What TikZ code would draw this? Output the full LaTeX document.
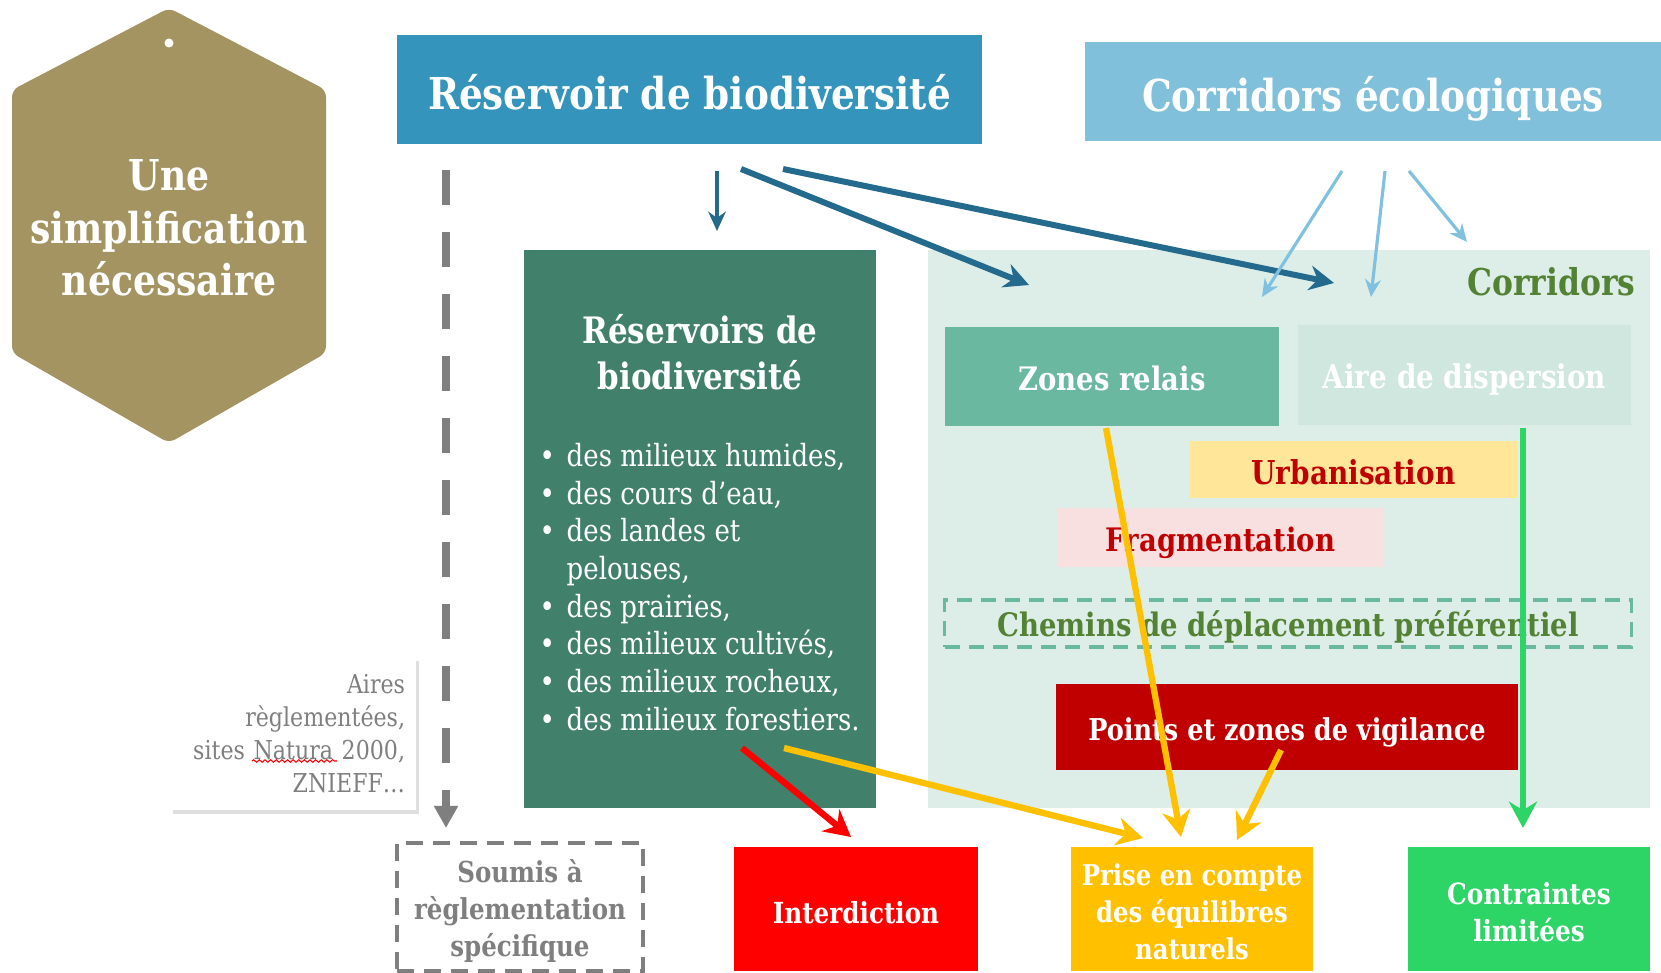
\documentclass[tikz,border=0pt]{standalone}
\usepackage{fontspec}
\setmainfont{DejaVu Serif}[FakeStretch=0.85]
\usetikzlibrary{arrows.meta,shadows,decorations.pathmorphing}
\definecolor{hexc}{HTML}{A39462}
\definecolor{resc}{HTML}{3594BB}
\definecolor{corc}{HTML}{80C0DB}
\definecolor{arrdark}{HTML}{236A8D}
\definecolor{arrlight}{HTML}{7FC1DE}
\definecolor{greenbox}{HTML}{41806B}
\definecolor{corrarea}{HTML}{DDEEE8}
\definecolor{zonec}{HTML}{6BB8A0}
\definecolor{airec}{HTML}{CFE7DF}
\definecolor{urbc}{HTML}{FFE699}
\definecolor{fragc}{HTML}{F8E0E0}
\definecolor{darkred}{HTML}{C00000}
\definecolor{textgreen}{HTML}{548235}
\definecolor{yel}{HTML}{FFC000}
\definecolor{grn}{HTML}{2DD566}
\definecolor{gry}{HTML}{7F7F7F}
\newcommand\mybul{\makebox[0.27cm][l]{•}}
\newcommand\mybulind{\hspace*{0.27cm}}
\newcommand\dn[2][2pt]{\raisebox{-#1}[\height][\depth]{\begin{tabular}{@{}c@{}}#2\end{tabular}}}
\begin{document}
\begin{tikzpicture}[x=0.01cm,y=-0.01cm,
  box/.style={inner sep=0pt, align=center},
  darkarr/.style={arrdark, line width=0.9pt, -{Stealth[length=5.5pt,width=5pt]}},
  darkthick/.style={arrdark, line width=1.7pt, -{Stealth[length=7pt,width=7pt]}},
  lightarr/.style={arrlight, line width=0.9pt, -{Stealth[length=5pt,width=4.5pt]}},
  bigarr/.style={line width=1.8pt, -{Stealth[length=7.5pt,width=8pt]}}
]
\useasboundingbox (0,0) rectangle (1661,973);
\fill[white] (0,0) rectangle (1661,973);
% hexagon
\fill[hexc, rounded corners=2pt] (169,8) -- (326,90) -- (326,353) -- (169,443) -- (12,353) -- (12,90) -- cycle;
\fill[white] (169,43) circle[radius=0.045cm];
\node[text=white, align=center, font=\bfseries\fontsize{12.1}{15}\selectfont] (simpl) at (169,228) {Une\\simplification\\nécessaire};
% top boxes
\node[box, fill=resc, text=white, minimum width=5.85cm, minimum height=1.09cm, font=\bfseries\fontsize{12.5}{14}\selectfont] (res) at (689.5,89.5) {\dn[2.7pt]{Réservoir de biodiversité}};
\node[box, fill=corc, text=white, minimum width=5.76cm, minimum height=0.99cm, font=\bfseries\fontsize{12.5}{14}\selectfont] (cor) at (1373,91.5) {\dn[2.7pt]{Corridors écologiques}};
% reservoirs box
\node[fill=greenbox, minimum width=3.52cm, minimum height=5.58cm, inner sep=0pt] (resv) at (700,529) {};
\node[text=white, align=center, inner sep=0pt, font=\bfseries\fontsize{10.35}{13}\selectfont] (resvt) at (700,352) {Réservoirs de\\biodiversité};
\node[text=white, anchor=west, align=left, inner sep=0pt, font=\fontsize{8.7}{10.7}\selectfont] (resvl) at (539,587) {\mybul des milieux humides,\\\mybul des cours d’eau,\\\mybul des landes et\\\mybulind pelouses,\\\mybul des prairies,\\\mybul des milieux cultivés,\\\mybul des milieux rocheux,\\\mybul des milieux forestiers.};
% corridors area
\node[fill=corrarea, minimum width=7.22cm, minimum height=5.58cm, inner sep=0pt] (corr) at (1289,529) {};
\node[anchor=east, text=textgreen, inner sep=0pt, font=\bfseries\fontsize{10.5}{12}\selectfont] (corrl) at (1636,282) {Corridors};
\node[box, fill=zonec, text=white, minimum width=3.34cm, minimum height=0.99cm, font=\bfseries\fontsize{9.2}{10}\selectfont] (zones) at (1112,376.5) {\dn[2.1pt]{Zones relais}};
\node[box, fill=airec, text=white, minimum width=3.33cm, minimum height=1.00cm, font=\bfseries\fontsize{9.3}{10}\selectfont] (aire) at (1464.5,375) {\dn[1.8pt]{Aire de dispersion}};
\node[box, fill=urbc, text=darkred, minimum width=3.27cm, minimum height=0.57cm, font=\bfseries\fontsize{9.35}{10}\selectfont] (urb) at (1353.5,469.5) {\dn[2.1pt]{Urbanisation}};
\node[box, fill=fragc, text=darkred, minimum width=3.25cm, minimum height=0.59cm, font=\bfseries\fontsize{9.2}{10}\selectfont] (frag) at (1220.5,537.5) {\dn[2.1pt]{Fragmentation}};
\node[box, draw=zonec, line width=0.9pt, dash pattern=on 0.15cm off 0.09cm, text=textgreen, minimum width=6.86cm, minimum height=0.47cm, font=\bfseries\fontsize{9.2}{10}\selectfont] (chem) at (1288,623.5) {\dn[1.5pt]{Chemins de déplacement préférentiel}};
\node[box, fill=darkred, text=white, minimum width=4.62cm, minimum height=0.86cm, font=\bfseries\fontsize{8.55}{10}\selectfont] (points) at (1287,727) {\dn[1.8pt]{Points et zones de vigilance}};
% bottom boxes
\node[box, fill=red, text=white, minimum width=2.44cm, minimum height=1.24cm, font=\bfseries\fontsize{8.25}{10.5}\selectfont] (interd) at (856,909) {\dn[2.1pt]{Interdiction}};
\node[box, fill=yel, text=white, minimum width=2.42cm, minimum height=1.24cm, font=\bfseries\fontsize{8.15}{10.5}\selectfont] (prise) at (1192,909) {\dn[1.8pt]{Prise en compte\\des équilibres\\naturels}};
\node[box, fill=grn, text=white, minimum width=2.42cm, minimum height=1.24cm, font=\bfseries\fontsize{8.3}{10.5}\selectfont] (contr) at (1529,909) {\dn[1.8pt]{Contraintes\\limitées}};
\node[box, draw=gry, line width=1pt, dash pattern=on 0.17cm off 0.1cm, text=gry, minimum width=2.46cm, minimum height=1.28cm, font=\bfseries\fontsize{8.2}{10.5}\selectfont] (soumis) at (520,907) {\dn[1.5pt]{Soumis à\\règlementation\\spécifique}};
\node[fill=white, drop shadow={shadow xshift=0.03cm, shadow yshift=-0.04cm, opacity=0.25}, text=gry, align=right, text width=2.24cm, inner xsep=0.11cm, inner ysep=0pt, minimum height=1.53cm, font=\fontsize{7.4}{9.4}\selectfont] (aires) at (293,733.5) {Aires\\règlementées,\\sites Natura 2000,\\ZNIEFF…};
\draw[red, line width=0.3pt, decorate, decoration={snake, amplitude=0.35pt, segment length=1.6pt}] (252,761) -- (337,761);
% coordinates for connectors
\coordinate (gs) at (446,170);
\coordinate (ge) at (446,828);
\coordinate (a1s) at (717,171); \coordinate (a1e) at (717,231);
\coordinate (a2s) at (741,169); \coordinate (a2e) at (1029,285);
\coordinate (a3s) at (783,169); \coordinate (a3e) at (1334,283);
\coordinate (l1s) at (1342,171); \coordinate (l1e) at (1262,297);
\coordinate (l2s) at (1385,171); \coordinate (l2e) at (1371,297);
\coordinate (l3s) at (1409,171); \coordinate (l3e) at (1467,242);
\coordinate (rs) at (742,748); \coordinate (re) at (851,837);
\coordinate (y1s) at (784,748); \coordinate (y1e) at (1143,838);
\coordinate (y2s) at (1106,428); \coordinate (y2e) at (1181,837);
\coordinate (y3s) at (1281,750); \coordinate (y3e) at (1237,840);
\coordinate (gns) at (1523,428); \coordinate (gne) at (1523,828);
% connectors
\draw[gry, line width=2pt, dash pattern=on 0.35cm off 0.27cm, -{Triangle[length=6.3pt,width=6.5pt]}] (gs) -- (ge);
\draw[darkarr] (a1s) -- (a1e);
\draw[darkthick] (a2s) -- (a2e);
\draw[darkthick] (a3s) -- (a3e);
\draw[lightarr] (l1s) -- (l1e);
\draw[lightarr] (l2s) -- (l2e);
\draw[lightarr] (l3s) -- (l3e);
\draw[bigarr, red] (rs) -- (re);
\draw[bigarr, yel] (y1s) -- (y1e);
\draw[bigarr, yel] (y2s) -- (y2e);
\draw[bigarr, yel] (y3s) -- (y3e);
\draw[bigarr, grn] (gns) -- (gne);
\end{tikzpicture}
\end{document}
